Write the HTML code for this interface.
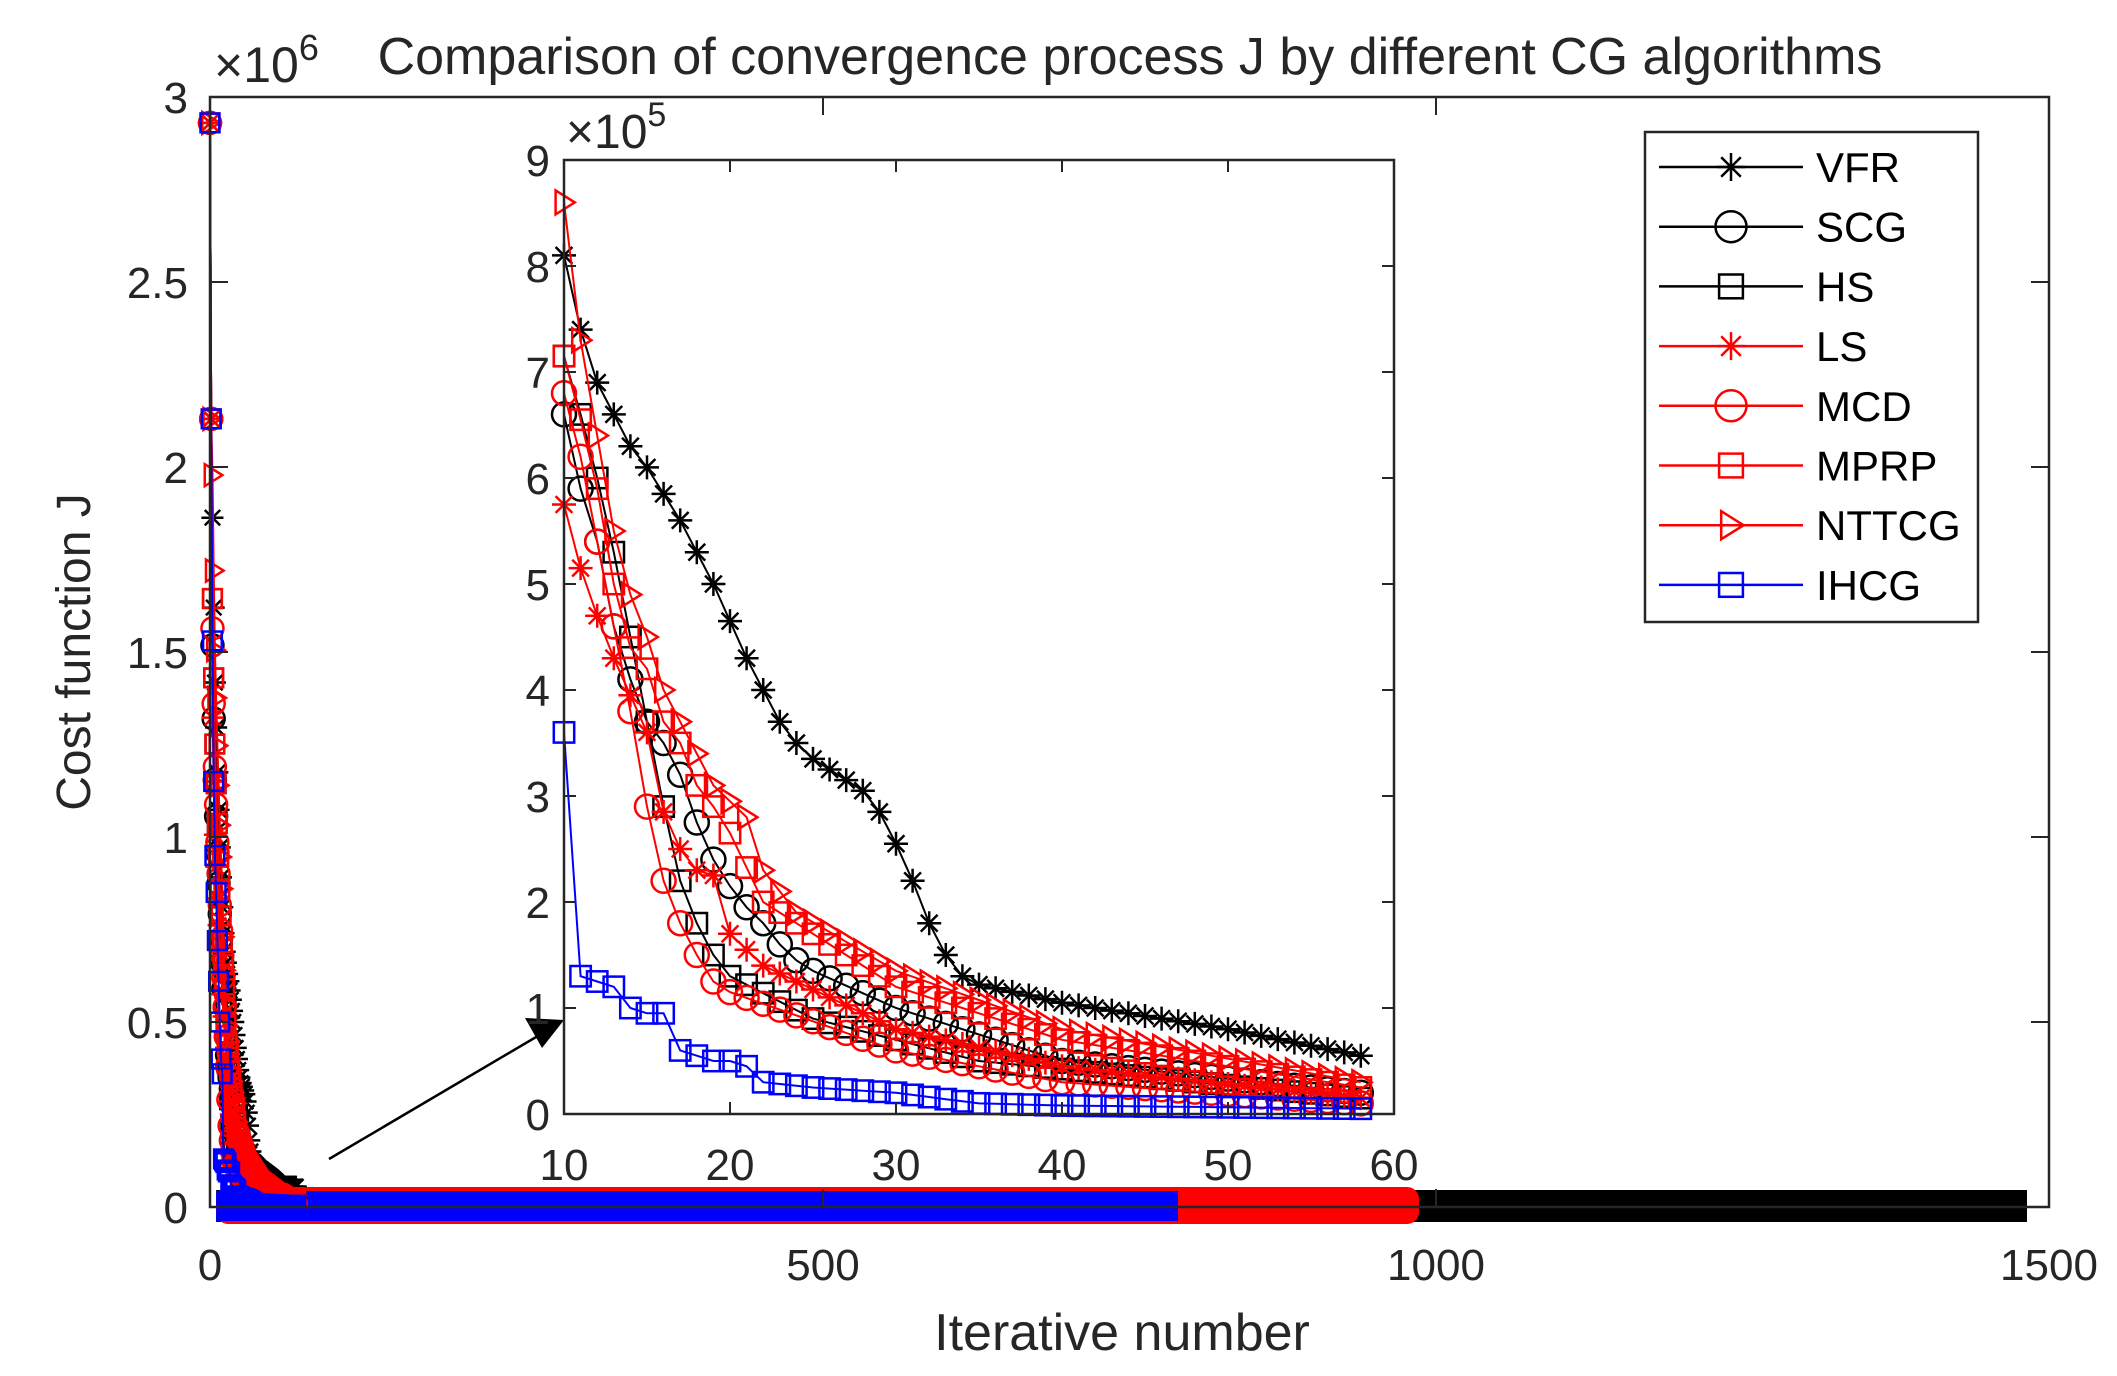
<!DOCTYPE html>
<html><head><meta charset="utf-8"><style>
html,body{margin:0;padding:0;background:#fff}
svg{display:block}
text{font-family:"Liberation Sans",Arial,sans-serif;fill:#262626}
</style></head><body>
<svg id="s" width="2117" height="1376" viewBox="0 0 2117 1376" xmlns="http://www.w3.org/2000/svg">
<rect width="2117" height="1376" fill="#fff"/>
<g id="main"></g>
<g id="inset"></g>
<g id="leg"></g>
</svg>
<script>
const NS="http://www.w3.org/2000/svg";
function el(p,t,a,txt){const e=document.createElementNS(NS,t);for(const k in a)e.setAttribute(k,a[k]);if(txt!==undefined)e.textContent=txt;p.appendChild(e);return e;}
const main=document.getElementById('main'),ins=document.getElementById('inset'),leg=document.getElementById('leg');
const MX0=210,MX1=2049,MY0=97,MY1=1207;
const mx=k=>MX0+(MX1-MX0)*k/1500, my=v=>MY1-(MY1-MY0)*v/30;
const IX0=564,IX1=1394,IY0=160,IY1=1114;
const ix=k=>IX0+(IX1-IX0)*(k-10)/50, iy=v=>IY1-(IY1-IY0)*v/9;

function marker(g,type,x,y,c,sz){
  const h=sz/2;
  if(type=='*'){
    el(g,'path',{d:`M${x-h} ${y}H${x+h}M${x} ${y-h}V${y+h}M${x-h*0.7} ${y-h*0.7}L${x+h*0.7} ${y+h*0.7}M${x-h*0.7} ${y+h*0.7}L${x+h*0.7} ${y-h*0.7}`,stroke:c,'stroke-width':2.5,fill:'none'});
  }else if(type=='o'){
    el(g,'circle',{cx:x,cy:y,r:h,stroke:c,'stroke-width':2.5,fill:'none'});
  }else if(type=='s'){
    el(g,'rect',{x:x-h*0.85,y:y-h*0.85,width:h*1.7,height:h*1.7,stroke:c,'stroke-width':2.5,fill:'none'});
  }else if(type=='>'){
    el(g,'path',{d:`M${x-h*0.7} ${y-h}L${x+h*0.9} ${y}L${x-h*0.7} ${y+h}Z`,stroke:c,'stroke-width':2.5,fill:'none'});
  }
}
const R='#ff0000',B='#0000ff',K='#000';
const S=[
 {n:'VFR',c:K,m:'*',p:[[10,8.1],[11,7.4],[12,6.9],[13,6.6],[14,6.3],[15,6.1],[16,5.85],[17,5.6],[18,5.3],[19,5.0],[20,4.65],[21,4.3],[22,4.0],[23,3.7],[24,3.5],[25,3.35],[26,3.25],[27,3.15],[28,3.05],[29,2.85],[30,2.55],[31,2.2],[32,1.8],[33,1.5],[34,1.3],[35,1.22],[40,1.05],[50,0.8],[58,0.55]]},
 {n:'SCG',c:K,m:'o',p:[[10,6.6],[11,5.9],[12,5.4],[13,4.6],[14,4.1],[15,3.7],[16,3.5],[17,3.2],[18,2.75],[19,2.4],[20,2.15],[21,1.95],[22,1.8],[23,1.6],[24,1.45],[25,1.35],[30,1.0],[40,0.5],[58,0.2]]},
 {n:'HS',c:K,m:'s',p:[[10,7.15],[11,6.6],[12,6.0],[13,5.3],[14,4.5],[15,3.7],[16,2.9],[17,2.2],[18,1.8],[19,1.5],[20,1.3],[25,0.9],[35,0.5],[58,0.15]]},
 {n:'LS',c:R,m:'*',p:[[10,5.75],[11,5.15],[12,4.7],[13,4.3],[14,3.95],[15,3.6],[16,2.85],[17,2.5],[18,2.3],[19,2.25],[20,1.7],[22,1.4],[30,0.8],[40,0.45],[58,0.15]]},
 {n:'MCD',c:R,m:'o',p:[[10,6.8],[11,6.2],[12,5.4],[13,4.6],[14,3.8],[15,2.9],[16,2.2],[17,1.8],[18,1.5],[19,1.25],[20,1.15],[30,0.6],[40,0.3],[58,0.1]]},
 {n:'MPRP',c:R,m:'s',p:[[10,7.15],[11,6.55],[12,5.9],[13,5.0],[14,4.4],[15,4.2],[16,3.7],[17,3.5],[18,3.1],[19,2.9],[20,2.65],[22,2.0],[24,1.8],[30,1.2],[40,0.7],[58,0.25]]},
 {n:'NTTCG',c:R,m:'>',p:[[10,8.6],[11,7.3],[12,6.4],[13,5.5],[14,4.9],[15,4.5],[16,4.0],[17,3.7],[18,3.4],[19,3.1],[20,2.95],[21,2.8],[22,2.3],[24,1.9],[30,1.35],[40,0.8],[58,0.3]]},
 {n:'IHCG',c:B,m:'s',p:[[10,3.6],[11,1.3],[12,1.25],[13,1.2],[14,1.0],[15,0.95],[16,0.95],[17,0.6],[18,0.55],[19,0.5],[20,0.5],[21,0.45],[22,0.3],[25,0.25],[30,0.2],[35,0.1],[40,0.08],[58,0.05]]}
];
function interp(p,k){if(k<=p[0][0])return p[0][1];for(let i=1;i<p.length;i++){if(k<=p[i][0]){const a=p[i-1],b=p[i];return a[1]+(b[1]-a[1])*(k-a[0])/(b[0]-a[0]);}}return p[p.length-1][1];}
S.forEach(s=>{const v10=s.p[0][1];
 let pre;
 if(s.n=='IHCG')pre=[[0,29.3],[1,21.3],[2,15.3],[3,11.5],[4,9.5],[5,8.5],[6,7.2],[8,5],[9,4]];
 else pre=[[0,29.3],[1,21.3],[2,v10*2.3],[3,v10*2.0],[4,v10*1.75],[6,v10*1.45],[8,v10*1.2]];
 s.full=pre.concat(s.p);});
el(main,'rect',{x:mx(5),y:1190,width:2027-mx(5),height:32,fill:K});
el(main,'rect',{x:mx(5),y:1187,width:1419-mx(5),height:37,fill:R,rx:12});
el(main,'rect',{x:mx(5),y:1191,width:1178-mx(5),height:30,fill:B});
S.forEach(s=>{
 const g=el(main,'g',{});
 let d='';for(let k=0;k<=70;k++){const v=interp(s.full,k);d+=(k?'L':'M')+mx(k).toFixed(1)+' '+my(v).toFixed(1);}
 el(g,'path',{d:d,stroke:s.c,'stroke-width':2,fill:'none'});
 for(let k=0;k<=70;k++){marker(g,s.m,mx(k),my(interp(s.full,k)),s.c,22);}
});
el(main,'rect',{x:MX0,y:MY0,width:MX1-MX0,height:MY1-MY0,fill:'none',stroke:'#262626','stroke-width':2.5});
for(let i=0;i<=6;i++){const y=MY1-(MY1-MY0)*i/6;
 el(main,'path',{d:`M${MX0} ${y}h18M${MX1} ${y}h-18`,stroke:'#262626','stroke-width':2});
 el(main,'text',{x:188,y:y+16,'text-anchor':'end','font-size':44},['0','0.5','1','1.5','2','2.5','3'][i]);}
for(let i=0;i<=3;i++){const x=MX0+(MX1-MX0)*i/3;
 el(main,'path',{d:`M${x} ${MY1}v-18M${x} ${MY0}v18`,stroke:'#262626','stroke-width':2});
 el(main,'text',{x:x,y:1280,'text-anchor':'middle','font-size':44},['0','500','1000','1500'][i]);}
const t6=el(main,'text',{x:214,y:82,'font-size':50},'×10');el(t6,'tspan',{dy:-22,'font-size':36},'6');
el(main,'text',{x:1130,y:74,'text-anchor':'middle','font-size':52},'Comparison of convergence process J by different CG algorithms');
el(main,'text',{x:1122,y:1350,'text-anchor':'middle','font-size':52},'Iterative number');
el(main,'text',{x:0,y:0,'text-anchor':'middle','font-size':48,transform:'translate(90,652) rotate(-90)'},'Cost function J');
el(main,'path',{d:'M329 1159L548 1030',stroke:K,'stroke-width':2.5});
el(main,'path',{d:'M564 1020L525 1018L542 1048Z',fill:K});
el(ins,'rect',{x:IX0,y:IY0,width:IX1-IX0,height:IY1-IY0,fill:'#fff'});
S.forEach(s=>{
 const g=el(ins,'g',{});
 let d='';for(let k=10;k<=58;k++){d+=(k>10?'L':'M')+ix(k).toFixed(1)+' '+iy(interp(s.p,k)).toFixed(1);}
 el(g,'path',{d:d,stroke:s.c,'stroke-width':2,fill:'none'});
 for(let k=10;k<=58;k++)marker(g,s.m,ix(k),iy(interp(s.p,k)),s.c,24);
});
el(ins,'rect',{x:IX0,y:IY0,width:IX1-IX0,height:IY1-IY0,fill:'none',stroke:'#262626','stroke-width':2.5});
for(let i=0;i<=9;i++){const y=iy(i);
 el(ins,'path',{d:`M${IX0} ${y}h12M${IX1} ${y}h-12`,stroke:'#262626','stroke-width':2});
 el(ins,'text',{x:550,y:y+16,'text-anchor':'end','font-size':44},String(i));}
for(let i=0;i<=5;i++){const x=ix(10+10*i);
 el(ins,'path',{d:`M${x} ${IY1}v-12M${x} ${IY0}v12`,stroke:'#262626','stroke-width':2});
 el(ins,'text',{x:x,y:1180,'text-anchor':'middle','font-size':44},String(10+10*i));}
const t5=el(ins,'text',{x:566,y:148,'font-size':48},'×10');el(t5,'tspan',{dy:-22,'font-size':34},'5');
el(leg,'rect',{x:1645,y:132,width:333,height:490,fill:'#fff',stroke:'#262626','stroke-width':2.5});
S.forEach((s,i)=>{const y=167+i*59.7;
 el(leg,'path',{d:`M1659 ${y}H1803`,stroke:s.c,'stroke-width':2.5});
 marker(leg,s.m,1731,y,s.c,s.m=='o'?31:28);
 const t=el(leg,'text',{x:1816,y:y+15,'font-size':42},s.n);t.style.fill='#000';
});
</script>
</body></html>
